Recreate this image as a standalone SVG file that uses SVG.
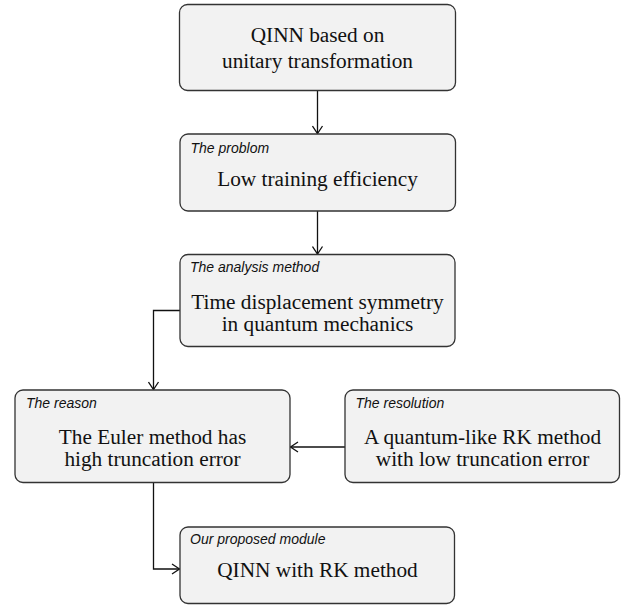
<svg xmlns="http://www.w3.org/2000/svg" width="621" height="605" viewBox="0 0 621 605">
<style>
.box{fill:#f2f2f2;stroke:#333333;stroke-width:1.3}
.main{font-family:"Liberation Serif","Times New Roman",serif;font-size:21.3px;fill:#111111;text-anchor:middle}
.lbl{font-family:"Liberation Sans",Arial,sans-serif;font-size:14px;font-style:italic;fill:#111111}
.con{fill:none;stroke:#111111;stroke-width:1.3}
</style>
<defs>
<marker id="arr" markerUnits="userSpaceOnUse" markerWidth="12" markerHeight="12" viewBox="-9 -6 10 12" refX="0" refY="0" orient="auto">
<path d="M-7.5,-5 L0,0 L-7.5,5" fill="none" stroke="#111111" stroke-width="1.3"/>
</marker>
</defs>
<g id="connectors">
<path class="con" d="M317.5,91 V133.5" marker-end="url(#arr)"/>
<path class="con" d="M317.5,211 V254" marker-end="url(#arr)"/>
<path class="con" d="M180,310.5 H153.5 V389.5" marker-end="url(#arr)"/>
<path class="con" d="M345,447 H290.5" marker-end="url(#arr)"/>
<path class="con" d="M153.5,482.5 V569 H179.5" marker-end="url(#arr)"/>
</g>
<g id="n1">
<rect class="box" x="179.5" y="4.5" width="276" height="86" rx="8"/>
<text class="main" x="317.5" y="41.5">QINN based on</text>
<text class="main" x="317.5" y="68">unitary transformation</text>
</g>
<g id="n2">
<rect class="box" x="180" y="134" width="275.5" height="77" rx="8"/>
<text class="lbl" x="190.5" y="152.5">The problom</text>
<text class="main" x="317.5" y="186">Low training efficiency</text>
</g>
<g id="n3">
<rect class="box" x="180" y="254.5" width="275" height="92" rx="8"/>
<text class="lbl" x="190" y="271.5">The analysis method</text>
<text class="main" x="317.5" y="308.5">Time displacement symmetry</text>
<text class="main" x="317.5" y="330.5">in quantum mechanics</text>
</g>
<g id="n4">
<rect class="box" x="15" y="390" width="275" height="92.5" rx="8"/>
<text class="lbl" x="26" y="407.5">The reason</text>
<text class="main" x="152.5" y="443.5">The Euler method has</text>
<text class="main" x="152.5" y="466">high truncation error</text>
</g>
<g id="n5">
<rect class="box" x="345" y="390" width="274.5" height="92.5" rx="8"/>
<text class="lbl" x="355.5" y="407.5">The resolution</text>
<text class="main" x="482.5" y="443.5">A quantum-like RK method</text>
<text class="main" x="482.5" y="466">with low truncation error</text>
</g>
<g id="n6">
<rect class="box" x="180" y="527" width="274.5" height="76.5" rx="8"/>
<text class="lbl" x="190" y="544">Our proposed module</text>
<text class="main" x="317.5" y="577">QINN with RK method</text>
</g>
</svg>
